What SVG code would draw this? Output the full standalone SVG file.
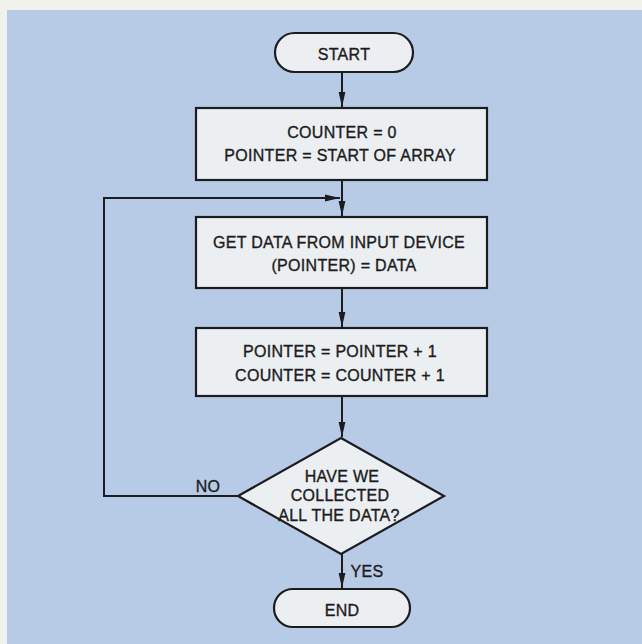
<svg xmlns="http://www.w3.org/2000/svg" width="642" height="644" viewBox="0 0 642 644">
<defs>
<style>
.bg{fill:#b8cbe6}
.node{fill:#eceff2;stroke:#1c1c20;stroke-width:2.2}
.t{font-family:"Liberation Sans",Arial,sans-serif;font-size:16px;fill:#1c1c20;stroke:#1c1c20;stroke-width:0.35;text-anchor:middle;letter-spacing:0.3px}
.edge{fill:none;stroke:#1c1c20;stroke-width:2}
</style>
<marker id="arr" markerUnits="userSpaceOnUse" markerWidth="16" markerHeight="8" refX="15" refY="4" orient="auto">
<path d="M0,0.6 L15,4 L0,7.4 Z" fill="#1c1c20"/>
</marker>
</defs>
<rect x="0" y="0" width="642" height="644" fill="#f1f1ee"/>
<rect class="bg" x="7" y="10" width="635" height="634"/>
<g id="connectors">
<line class="edge" x1="342" y1="72" x2="342" y2="107" marker-end="url(#arr)"/>
<line class="edge" x1="342" y1="180" x2="342" y2="216" marker-end="url(#arr)"/>
<line class="edge" x1="342" y1="288" x2="342" y2="327" marker-end="url(#arr)"/>
<line class="edge" x1="342" y1="396" x2="342" y2="437" marker-end="url(#arr)"/>
<line class="edge" x1="342" y1="554" x2="342" y2="588" marker-end="url(#arr)"/>
<polyline class="edge" points="238,496 104,496 104,198 340,198" marker-end="url(#arr)"/>
<text class="t" x="208" y="492">NO</text>
<text class="t" x="367" y="577">YES</text>
</g>
<g id="start">
<rect class="node" x="275" y="33" width="138" height="39" rx="19.5"/>
<text class="t" x="344" y="60">START</text>
</g>
<g id="init">
<rect class="node" x="196" y="108" width="291" height="72"/>
<text class="t" x="342" y="138">COUNTER = 0</text>
<text class="t" x="340" y="161">POINTER = START OF ARRAY</text>
</g>
<g id="getdata">
<rect class="node" x="196" y="217" width="291" height="71"/>
<text class="t" x="339" y="248">GET DATA FROM INPUT DEVICE</text>
<text class="t" x="344" y="271">(POINTER) = DATA</text>
</g>
<g id="increment">
<rect class="node" x="196" y="328" width="291" height="68"/>
<text class="t" x="340" y="357">POINTER = POINTER + 1</text>
<text class="t" x="340" y="381">COUNTER = COUNTER + 1</text>
</g>
<g id="decision">
<polygon class="node" points="341,438 444,496 341,554 238,496"/>
<text class="t" x="342" y="482">HAVE WE</text>
<text class="t" x="340" y="501">COLLECTED</text>
<text class="t" x="339" y="521">ALL THE DATA?</text>
</g>
<g id="end">
<rect class="node" x="274" y="589" width="136" height="38" rx="19"/>
<text class="t" x="342" y="616">END</text>
</g>
</svg>
